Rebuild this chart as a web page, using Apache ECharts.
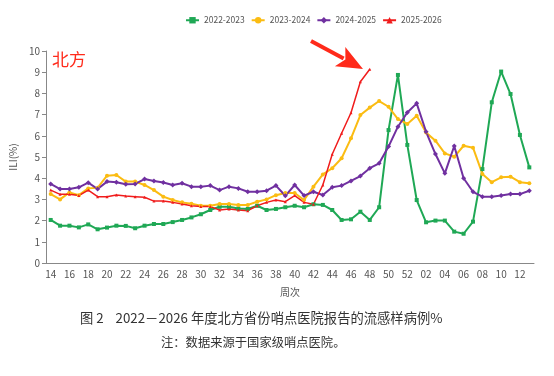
<!DOCTYPE html>
<html>
<head>
<meta charset="utf-8">
<script src="https://cdn.jsdelivr.net/npm/echarts@6/dist/echarts.min.js"></script>
<style>
  html, body { margin: 0; padding: 0; background: #fff; }
  #chart { width: 554px; height: 376px; }
</style>
</head>
<body>
<div id="chart"></div>
<script>
// 周次 (week 14 to week 13 of next year)
const weeks = ['14','15','16','17','18','19','20','21','22','23','24','25','26','27','28','29','30','31','32','33',
  '34','35','36','37','38','39','40','41','42','43','44','45','46','47','48','49','50','51','52',
  '01','02','03','04','05','06','07','08','09','10','11','12','13'];

const s2022 = [2.03,1.76,1.76,1.68,1.82,1.59,1.67,1.76,1.75,1.64,1.76,1.84,1.84,1.93,2.03,2.15,2.3,2.5,2.65,2.65,
  2.57,2.55,2.7,2.5,2.55,2.63,2.7,2.63,2.77,2.74,2.5,2.03,2.06,2.42,2.03,2.63,6.27,8.87,5.57,
  2.97,1.92,2.0,2.0,1.48,1.38,1.95,4.43,7.58,9.03,7.97,6.04,4.51];

const s2023 = [3.25,3.0,3.33,3.2,3.52,3.55,4.12,4.15,3.84,3.84,3.68,3.44,3.13,2.97,2.86,2.8,2.7,2.7,2.78,2.78,
  2.74,2.74,2.89,3.0,3.2,3.3,3.3,2.97,3.6,4.18,4.47,4.94,5.88,6.98,7.33,7.64,7.37,6.79,6.56,
  6.95,6.15,5.77,5.17,5.01,5.53,5.44,4.2,3.81,4.04,4.07,3.81,3.76];

const s2024 = [3.73,3.49,3.49,3.57,3.79,3.49,3.84,3.81,3.71,3.73,3.96,3.87,3.8,3.68,3.76,3.6,3.6,3.65,3.44,3.6,
  3.52,3.36,3.36,3.41,3.65,3.17,3.68,3.18,3.36,3.21,3.57,3.65,3.87,4.1,4.47,4.7,5.49,6.43,7.1,
  7.53,6.19,5.14,4.23,5.52,4.0,3.36,3.13,3.13,3.18,3.25,3.25,3.41];

const s2025 = [3.44,3.24,3.24,3.18,3.44,3.13,3.13,3.21,3.16,3.13,3.1,2.92,2.92,2.86,2.78,2.7,2.66,2.66,2.5,2.55,
  2.5,2.47,2.7,2.86,2.97,2.89,3.18,2.86,2.77,3.68,5.13,6.12,7.09,8.55,9.14];

const yTicks = [0,1,2,3,4,5,6,7,8,9,10];

const chart = echarts.init(document.getElementById('chart'));
const font = 'Noto Sans CJK SC';

function line(name, data, color, symbol, size, width) {
  return {
    name: name,
    type: 'line',
    data: data,
    symbol: symbol,
    symbolSize: size,
    showSymbol: true,
    itemStyle: { color: color },
    lineStyle: { color: color, width: width },
    animation: false
  };
}

// arrow geometry (annotation only)
const tip = [363, 69], tail = [311, 41];
const dx = tip[0] - tail[0], dy = tip[1] - tail[1];
const len = Math.sqrt(dx * dx + dy * dy);
const ux = dx / len, uy = dy / len, nx = -uy, ny = ux;
const headLen = 22, halfW = 11;
const bx = tip[0] - headLen * ux, by = tip[1] - headLen * uy;

let option = {
  backgroundColor: '#fff',
  textStyle: { fontFamily: font },
  legend: {
    top: 11,
    left: 180,
    itemGap: 6,
    itemWidth: 13,
    itemHeight: 8,
    textStyle: { fontSize: 8.5, color: '#555', fontFamily: font },
    data: ['2022-2023', '2023-2024', '2024-2025', '2025-2026']
  },
  grid: { left: 40, right: 20, top: 51, bottom: 113 },
  xAxis: {
    type: 'category',
    data: weeks,
    boundaryGap: true,
    name: '周次',
    nameLocation: 'middle',
    nameGap: 24,
    nameTextStyle: { fontSize: 10, color: '#555' },
    axisLine: { lineStyle: { color: '#888' } },
    axisTick: { alignWithLabel: true, interval: 1, length: 4, lineStyle: { color: '#888' } },
    axisLabel: { interval: 1, fontSize: 10, color: '#555', margin: 6 }
  },
  yAxis: {
    type: 'value',
    min: 0,
    max: 10,
    interval: 1,
    name: 'ILI(%)',
    nameLocation: 'middle',
    nameGap: 24,
    nameTextStyle: { fontSize: 10, color: '#555' },
    axisLine: { show: true, lineStyle: { color: '#888' } },
    axisTick: { show: true, length: 4, lineStyle: { color: '#888' } },
    axisLabel: {
      fontSize: 10, color: '#555', margin: 6,
      formatter: v => yTicks.indexOf(v) >= 0 ? String(v) : ''
    },
    splitLine: { show: false }
  },
  series: [
    line('2022-2023', s2022, '#1fa855', 'rect', 4, 2),
    line('2023-2024', s2023, '#fbbc12', 'circle', 4, 2),
    line('2024-2025', s2024, '#7030a0', 'diamond', 5, 2),
    line('2025-2026', s2025, '#f01c1c', 'triangle', 3, 1.5)
  ],
  graphic: [
    { type: 'text', left: 52, top: 51,
      style: { text: '北方', fill: '#ff2a1a', font: '17px "Noto Sans CJK SC"' } },
    { type: 'line', shape: { x1: tail[0], y1: tail[1], x2: bx, y2: by },
      style: { stroke: '#ff2a1a', lineWidth: 4 } },
    { type: 'polygon',
      shape: { points: [
        [tip[0], tip[1]],
        [bx - 4 * ux + halfW * nx, by - 4 * uy + halfW * ny],
        [bx + 2 * ux, by + 2 * uy],
        [bx - 4 * ux - halfW * nx, by - 4 * uy - halfW * ny]
      ] },
      style: { fill: '#ff2a1a' } },
    { type: 'text', left: 80, top: 311,
      style: { text: '图 2    2022－2026 年度北方省份哨点医院报告的流感样病例%', fill: '#333', font: '13.3px "Noto Sans CJK SC"' } },
    { type: 'text', left: 161, top: 336,
      style: { text: '注：数据来源于国家级哨点医院。', fill: '#333', font: '12.3px "Noto Sans CJK SC"' } }
  ]
};

chart.setOption(option);
</script>
</body>
</html>
